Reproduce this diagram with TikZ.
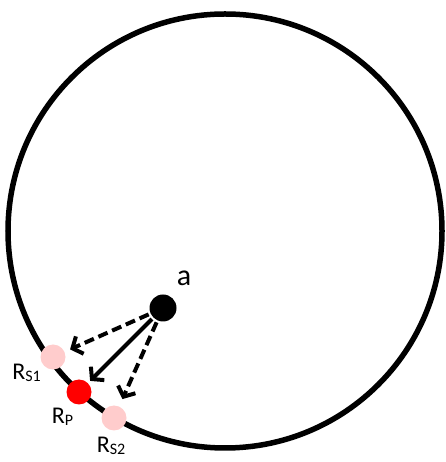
\documentclass[tikz,border=0pt]{standalone}
\usepackage{fontspec}
\setmainfont{Carlito}
\usepackage{tikz}
\usetikzlibrary{arrows.meta,positioning,calc}
\definecolor{dotpink}{RGB}{255,204,204}
\definecolor{dotred}{RGB}{255,0,0}
\newcommand{\rsub}[1]{R\raisebox{-2pt}{\fontsize{16}{16}\selectfont #1}}

\begin{document}
\begin{tikzpicture}[
			x=1pt,y=1pt,
			dot/.style={circle,inner sep=0pt,minimum size=25pt},
			lbl/.style={inner sep=0pt,font=\fontsize{24}{24}\selectfont},
			arr/.style={-{Straight Barb[length=8pt,width=19pt]},line width=4pt,shorten <=2pt},
			dsh/.style={arr,dash pattern=on 10pt off 5pt}
			]
			\useasboundingbox (0,0) rectangle (445,462);
			\coordinate (c) at (225,231);
			\draw[line width=5.5pt] (c) circle (217);
			\node[dot,fill=black,minimum size=27pt] (a) at (163,154) {};
			\node[dot,fill=dotpink] (rs1) at (53,105) {};
			\node[dot,fill=dotred] (rp) at (79,70) {};
			\node[dot,fill=dotpink] (rs2) at (114,44) {};
			\draw[dsh,shorten >=6pt] (a) -- (rs1);
			\draw[arr,shorten >=3pt] (a) -- (rp);
			\draw[dsh,shorten >=8pt] (a) -- (rs2);
			\node[inner sep=0pt,font=\fontsize{30}{30}\selectfont] (la) at (184,184) {a};
			\node[lbl] (lrs1) at (26.5,89) {\rsub{S1}};
			\node[lbl] (lrp) at (62.5,45) {\rsub{P}};
			\node[lbl] (lrs2) at (111,16) {\rsub{S2}};
		\end{tikzpicture}
\end{document}
